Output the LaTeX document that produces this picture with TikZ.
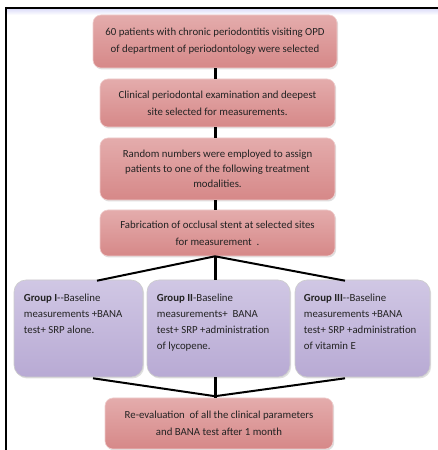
\documentclass[tikz,border=0pt]{standalone}
\usepackage{fontspec}
\setmainfont{Carlito}
\usetikzlibrary{shadows,calc}
\definecolor{pinkTop}{RGB}{228,172,172}
\definecolor{pinkMid}{RGB}{250,236,236}
\definecolor{pinkBot}{RGB}{214,136,136}
\definecolor{lavTop}{RGB}{208,199,228}
\definecolor{lavMid}{RGB}{240,237,247}
\definecolor{lavBot}{RGB}{184,170,212}
\definecolor{txt}{RGB}{35,35,35}
\begin{document}
\begin{tikzpicture}[x=1pt,y=1pt,
  every node/.style={text=txt},
  stepbox/.style={rounded corners=8pt, draw=pinkTop!60!white, line width=0.6pt,
    top color=pinkTop, middle color=pinkMid, bottom color=pinkBot,
    drop shadow={shadow xshift=1.2pt, shadow yshift=-1.5pt, opacity=0.25},
    align=center, inner sep=0pt, font=\fontsize{10.8}{17}\selectfont},
  groupbox/.style={rounded corners=12pt, draw=gray!40, line width=0.6pt,
    top color=lavTop, middle color=lavMid, bottom color=lavBot,
    drop shadow={shadow xshift=1.2pt, shadow yshift=-1.5pt, opacity=0.25},
    inner sep=0pt},
  grouptext/.style={align=left, inner sep=0pt, anchor=north west,
    font=\fontsize{10.8}{16}\selectfont},
  thick link/.style={line width=3pt, black},
  thin link/.style={line width=2pt, black}
]
\useasboundingbox (0,0) rectangle (438,450);
\fill[white] (0,0) rectangle (438,450);
% frame
\shade[top color=black!20!blue!15, bottom color=white] (6,435) rectangle (438,442);
\draw[line width=2.5pt] (5,442) -- (438,442);
\draw[line width=2.5pt] (6,443.2) -- (6,0);

% main boxes
\node[stepbox, minimum width=244, minimum height=53] (b1) at (215,408.5)
  {60 patients with chronic periodontitis visiting OPD\\of department of periodontology were selected};
\node[stepbox, minimum width=235, minimum height=48] (b2) at (217.5,347)
  {Clinical periodontal examination and deepest\\site selected for measurements.};
\node[stepbox, minimum width=235, minimum height=62, font=\fontsize{10.8}{15}\selectfont] (b3) at (217.5,281)
  {Random numbers were employed to assign\\patients to one of the following treatment\\modalities.};
\node[stepbox, minimum width=235, minimum height=46] (b4) at (217.5,217)
  {Fabrication of occlusal stent at selected sites\\for measurement\ \ .};

% group boxes
\node[groupbox, minimum width=129, minimum height=97] (g1) at (78.5,121.5) {};
\node[groupbox, minimum width=143, minimum height=97] (g2) at (218.5,121.5) {};
\node[groupbox, minimum width=135, minimum height=97] (g3) at (362.5,121.5) {};
\node[grouptext] (t1) at ($(g1.north west)+(10,-14)$)
  {\textbf{Group I}-{}-Baseline\\measurements +BANA\\test+ SRP alone.};
\node[grouptext] (t2) at ($(g2.north west)+(10,-14)$)
  {\textbf{Group II}-Baseline\\measurements+\ \ BANA\\test+ SRP +administration\\of lycopene.};
\node[grouptext] (t3) at ($(g3.north west)+(9,-14)$)
  {\textbf{Group III}-{}-Baseline\\measurements +BANA\\test+ SRP +administration\\of vitamin E};

% final box
\node[stepbox, minimum width=228, minimum height=51] (b5) at (219,26.5)
  {Re-evaluation\ \ of all the clinical parameters\\and BANA test after 1 month};

% connectors
\coordinate (jt) at (b4.south -| b1.south);
\coordinate (jb) at ($(b5.north -| b1.south)+(0,1.5)$);
\draw[thick link] (b1.south) -- (b1.south |- b2.north);
\draw[thick link] (b2.south -| b1.south) -- (b1.south |- b3.north);
\draw[thick link] (b3.south -| b1.south) -- (b1.south |- b4.north);
\draw[thin link] (jt) -- ($(g1.north)+(18.5,-1)$);
\draw[thick link] (jt) -- (jt |- g2.north);
\draw[thin link] (jt) -- ($(g3.north)+(-17.5,-1)$);
\draw[thin link] ($(g1.south)+(14.5,-1)$) -- (jb);
\draw[thick link] (jt |- g2.south) -- (jb);
\draw[thin link] ($(g3.south)+(-17.5,-1)$) -- (jb);
\draw[thick link] (jb) -- (jb |- b5.north);
\end{tikzpicture}
\end{document}
